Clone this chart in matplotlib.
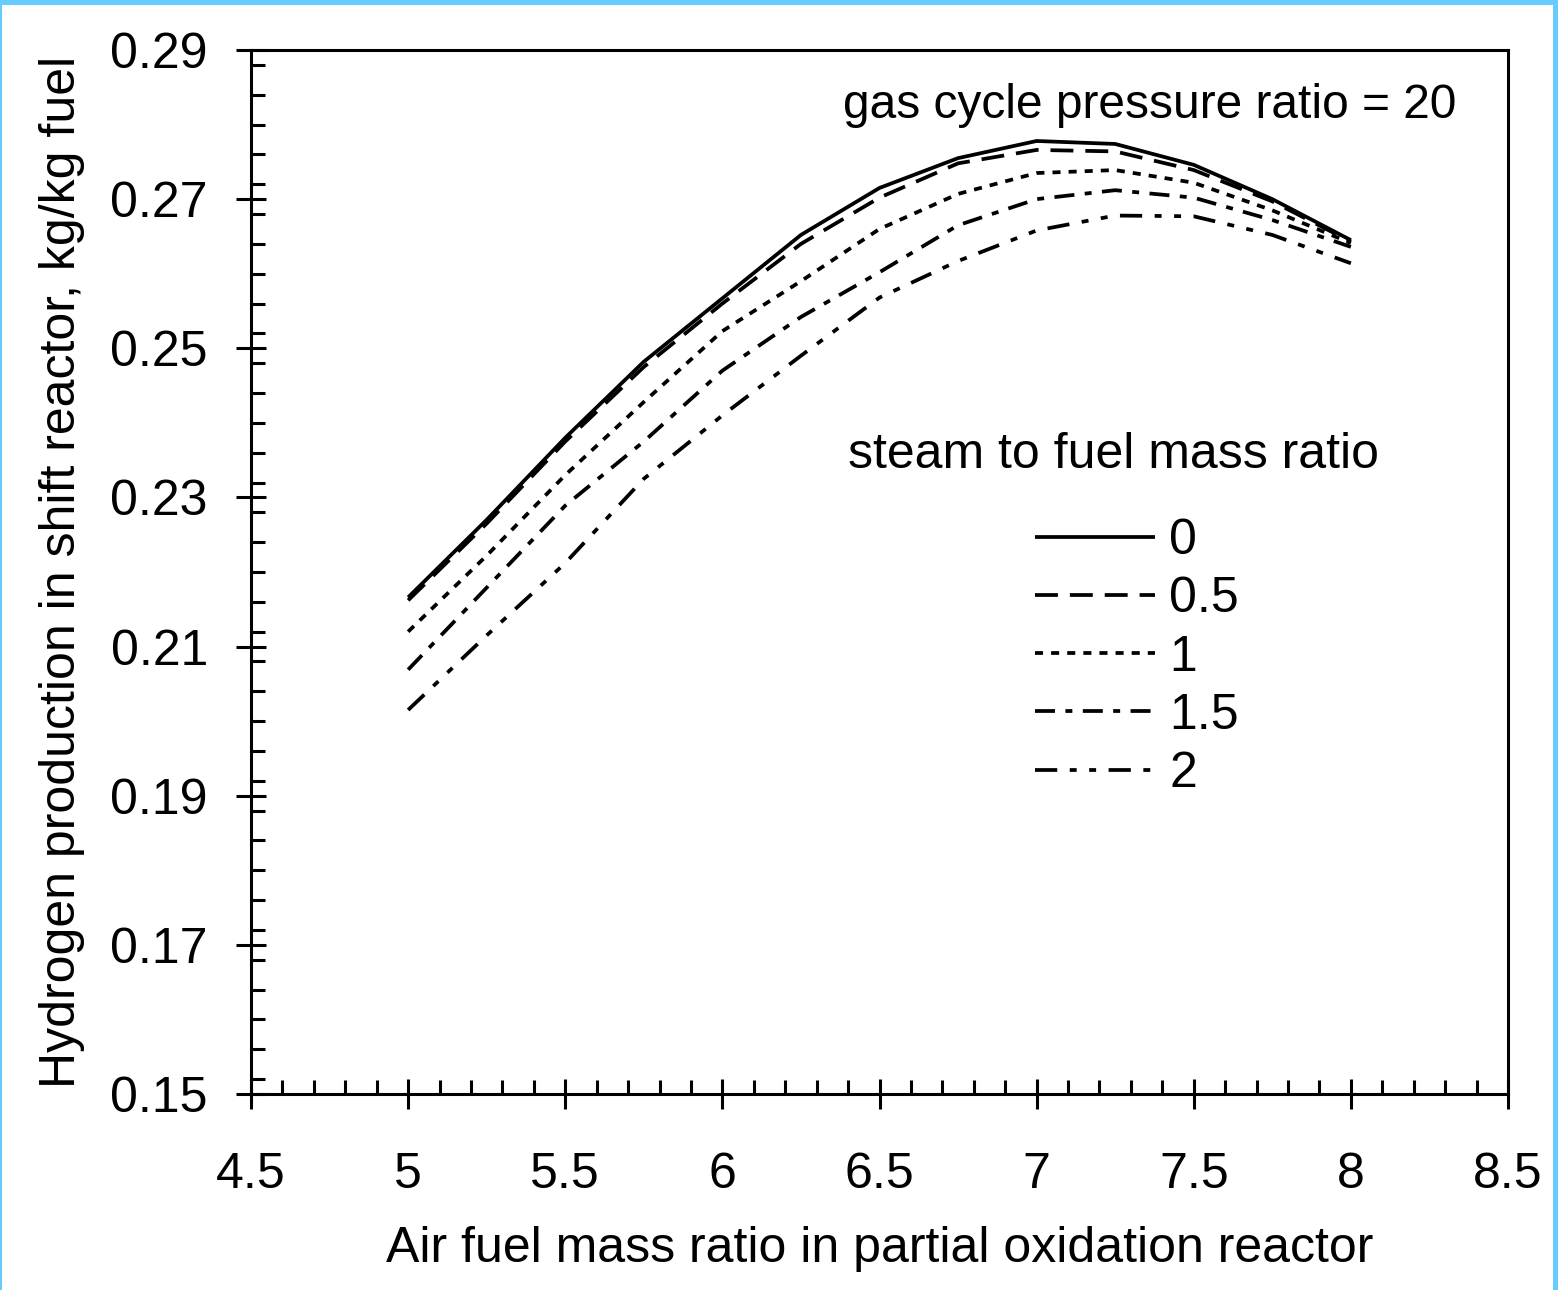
import matplotlib
matplotlib.use("Agg")
import matplotlib.pyplot as plt
from matplotlib.patches import Rectangle
from matplotlib.ticker import MultipleLocator, FixedLocator

plt.rcParams['font.family'] = ['Liberation Sans', 'DejaVu Sans']
plt.rcParams['lines.scale_dashes'] = False

air_fuel = [5.0, 5.25, 5.5, 5.75, 6.0, 6.25, 6.5, 6.75, 7.0, 7.25, 7.5, 7.75, 8.0]
steam_ratios = ['0', '0.5', '1', '1.5', '2']
h2_s0 = [0.2166, 0.2270, 0.2380, 0.2482, 0.2567, 0.2652, 0.2715, 0.2755, 0.2778, 0.2774, 0.2746, 0.2700, 0.2645]
h2_s05 = [0.2162, 0.2265, 0.2375, 0.2475, 0.2560, 0.2640, 0.2702, 0.2748, 0.2766, 0.2764, 0.2739, 0.2697, 0.2643]
h2_s1 = [0.2120, 0.2222, 0.2330, 0.2428, 0.2523, 0.2590, 0.2660, 0.2707, 0.2735, 0.2739, 0.2722, 0.2685, 0.2641]
h2_s15 = [0.2069, 0.2179, 0.2289, 0.2375, 0.2470, 0.2542, 0.2602, 0.2665, 0.2700, 0.2712, 0.2702, 0.2672, 0.2636]
h2_s2 = [0.2015, 0.2115, 0.2212, 0.2325, 0.2410, 0.2490, 0.2568, 0.2617, 0.2658, 0.2678, 0.2677, 0.2652, 0.2614]
series = [h2_s0, h2_s05, h2_s1, h2_s15, h2_s2]

x_ticks = [4.5, 5, 5.5, 6, 6.5, 7, 7.5, 8, 8.5]
x_ticklabels = ['4.5', '5', '5.5', '6', '6.5', '7', '7.5', '8', '8.5']
y_ticks = [0.15, 0.17, 0.19, 0.21, 0.23, 0.25, 0.27, 0.29]
y_ticklabels = ['0.15', '0.17', '0.19', '0.21', '0.23', '0.25', '0.27', '0.29']

styles = ['-', (0, (16.5, 8.6)), (0, (5.8, 5.8)), (0, (14.4, 7.5, 5.0, 7.5)),
          (0, (16.0, 9.0, 5.0, 9.0, 5.0, 9.0))]

FS = 36
fig = plt.figure(figsize=(15.58, 12.9), dpi=100)
fig.patch.set_facecolor('white')
ax = fig.add_axes([251/1558, 1 - 1094/1290, (1508-251)/1558, (1094-50)/1290])

for vals, ls, lab in zip(series, styles, steam_ratios):
    ax.plot(air_fuel, vals, color='black', lw=2.7, linestyle=ls, label=lab,
            solid_capstyle='butt', dash_capstyle='butt')

ax.set_xlim(4.5, 8.5)
ax.set_ylim(0.15, 0.29)
ax.xaxis.set_major_locator(FixedLocator(x_ticks))
ax.set_xticklabels(x_ticklabels)
ax.yaxis.set_major_locator(FixedLocator(y_ticks))
ax.set_yticklabels(y_ticklabels)
ax.xaxis.set_minor_locator(MultipleLocator(0.1))
ax.yaxis.set_minor_locator(MultipleLocator(0.004))

for s in ax.spines.values():
    s.set_linewidth(2.2)
ax.tick_params(which='major', direction='inout', length=22, width=2.2,
               labelsize=FS, colors='black')
ax.tick_params(axis='y', which='major', pad=20)
ax.tick_params(axis='x', which='major', pad=31)
ax.tick_params(which='minor', direction='in', length=10, width=2.2)

ax.set_xlabel('Air fuel mass ratio in partial oxidation reactor', fontsize=FS, labelpad=20)
ax.set_ylabel('Hydrogen production in shift reactor, kg/kg fuel', fontsize=FS, labelpad=18)

ax.text(0.715, 0.947, 'gas cycle pressure ratio = 20', transform=ax.transAxes,
        fontsize=34.5, ha='center', va='center')

ax.text((848 - 251) / 1257, (1094 - 455) / 1044, 'steam to fuel mass ratio',
        transform=ax.transAxes, fontsize=FS, ha='left', va='center')

leg = ax.legend(fontsize=FS, frameon=False, handlelength=2.4, handletextpad=0.28,
                labelspacing=0.245, loc='upper left', borderpad=0,
                bbox_to_anchor=((1035 - 251) / 1257, 0.5516), borderaxespad=0)

# figure border
bc = '#66CCFF'
fig.patches.append(Rectangle((0, 1 - 5/1290), 1, 5/1290, transform=fig.transFigure,
                             facecolor=bc, edgecolor='none'))
fig.patches.append(Rectangle((1 - 5/1558, 0), 5/1558, 1, transform=fig.transFigure,
                             facecolor=bc, edgecolor='none'))
fig.patches.append(Rectangle((0, 0), 1.5/1558, 1, transform=fig.transFigure,
                             facecolor=bc, edgecolor='none'))

fig.savefig('out.png', dpi=100)
